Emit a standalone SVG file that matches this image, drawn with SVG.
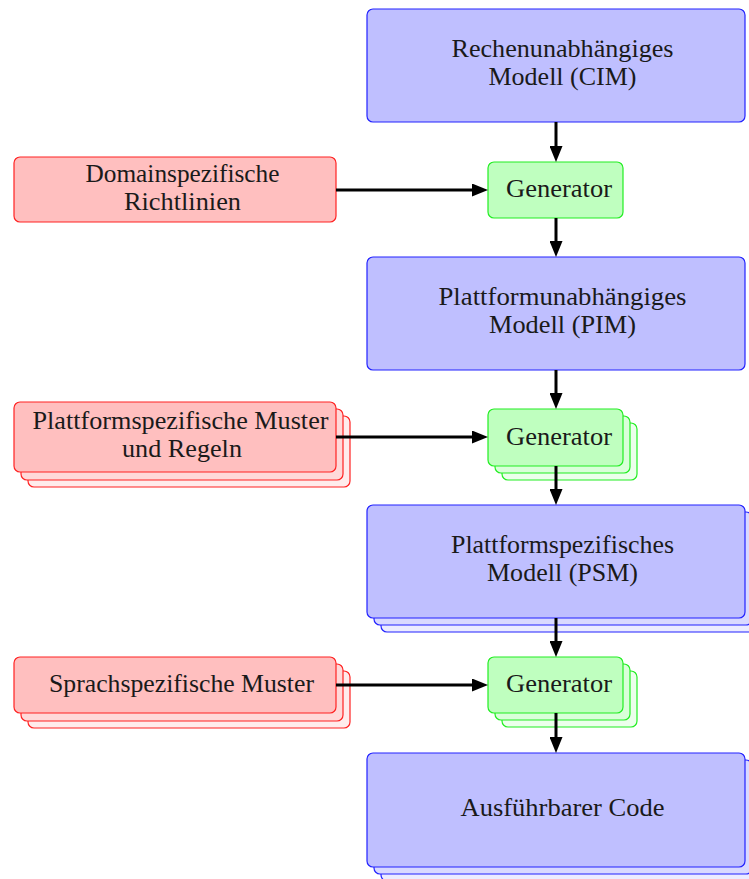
<svg xmlns="http://www.w3.org/2000/svg" width="749" height="879" viewBox="0 0 749 879">
  <style>
    text { font-family: "Liberation Serif", "Times New Roman", serif; font-size: 25px; fill: #1a1a1a; text-anchor: middle; }
    .blue { fill: #bfbfff; stroke: #2222ff; stroke-width: 1.2; }
    .blue2 { fill: #d9d9ff; stroke: #2222ff; stroke-width: 1.2; }
    .blue3 { fill: #ececff; stroke: #2222ff; stroke-width: 1.2; }
    .red { fill: #ffbfbf; stroke: #ff2222; stroke-width: 1.2; }
    .red2 { fill: #ffd9d9; stroke: #ff2222; stroke-width: 1.2; }
    .red3 { fill: #ffecec; stroke: #ff2222; stroke-width: 1.2; }
    .green { fill: #bfffbf; stroke: #22ee22; stroke-width: 1.2; }
    .green2 { fill: #d9ffd9; stroke: #22ee22; stroke-width: 1.2; }
    .green3 { fill: #ecffec; stroke: #22ee22; stroke-width: 1.2; }
    .conn { stroke: #000; stroke-width: 3; fill: none; marker-end: url(#head); }
  </style>
  <defs>
    <marker id="head" markerUnits="userSpaceOnUse" markerWidth="16" markerHeight="13" refX="0" refY="6.5" orient="auto">
      <path d="M0,0 L16,6.5 L0,13 Z" fill="#000"/>
    </marker>
  </defs>

  <!-- model boxes -->
  <g id="cim">
    <rect class="blue" x="367" y="9" width="378" height="113" rx="6"/>
    <text x="562.5" y="57" textLength="222" lengthAdjust="spacingAndGlyphs">Rechenunabhängiges</text>
    <text x="562.5" y="85" textLength="148" lengthAdjust="spacingAndGlyphs">Modell (CIM)</text>
  </g>

  <g id="pim">
    <rect class="blue" x="367" y="257" width="378" height="113" rx="6"/>
    <text x="562.5" y="305" textLength="248" lengthAdjust="spacingAndGlyphs">Plattformunabhängiges</text>
    <text x="562.5" y="333" textLength="147" lengthAdjust="spacingAndGlyphs">Modell (PIM)</text>
  </g>

  <g id="psm">
    <rect class="blue3" x="381" y="519" width="378" height="113" rx="6"/>
    <rect class="blue2" x="374" y="512" width="378" height="113" rx="6"/>
    <rect class="blue" x="367" y="505" width="378" height="113" rx="6"/>
    <text x="562.5" y="552.5" textLength="223" lengthAdjust="spacingAndGlyphs">Plattformspezifisches</text>
    <text x="562.5" y="581" textLength="151" lengthAdjust="spacingAndGlyphs">Modell (PSM)</text>
  </g>

  <g id="code">
    <rect class="blue3" x="381" y="767" width="378" height="114" rx="6"/>
    <rect class="blue2" x="374" y="760" width="378" height="114" rx="6"/>
    <rect class="blue" x="367" y="753" width="378" height="114" rx="6"/>
    <text x="562.5" y="816" textLength="204" lengthAdjust="spacingAndGlyphs">Ausführbarer Code</text>
  </g>

  <!-- generators -->
  <g id="gen1">
    <rect class="green" x="488" y="162" width="135" height="56" rx="6"/>
    <text x="559" y="197" textLength="106" lengthAdjust="spacingAndGlyphs">Generator</text>
  </g>

  <g id="gen2">
    <rect class="green3" x="502" y="423" width="135" height="57" rx="6"/>
    <rect class="green2" x="495" y="416" width="135" height="57" rx="6"/>
    <rect class="green" x="488" y="409" width="135" height="57" rx="6"/>
    <text x="559" y="444.5" textLength="106" lengthAdjust="spacingAndGlyphs">Generator</text>
  </g>

  <g id="gen3">
    <rect class="green3" x="502" y="671" width="135" height="56" rx="6"/>
    <rect class="green2" x="495" y="664" width="135" height="56" rx="6"/>
    <rect class="green" x="488" y="657" width="135" height="56" rx="6"/>
    <text x="559" y="692" textLength="106" lengthAdjust="spacingAndGlyphs">Generator</text>
  </g>

  <!-- rule inputs -->
  <g id="domain">
    <rect class="red" x="14" y="157" width="322" height="65" rx="6"/>
    <text x="182.5" y="181.5" textLength="194" lengthAdjust="spacingAndGlyphs">Domainspezifische</text>
    <text x="182.5" y="210" textLength="117" lengthAdjust="spacingAndGlyphs">Richtlinien</text>
  </g>

  <g id="platform">
    <rect class="red3" x="28" y="416" width="322" height="71" rx="6"/>
    <rect class="red2" x="21" y="409" width="322" height="71" rx="6"/>
    <rect class="red" x="14" y="402" width="322" height="70" rx="6"/>
    <text x="180.5" y="428.5" textLength="296" lengthAdjust="spacingAndGlyphs">Plattformspezifische Muster</text>
    <text x="182" y="457" textLength="120" lengthAdjust="spacingAndGlyphs">und Regeln</text>
  </g>

  <g id="language">
    <rect class="red3" x="28" y="671" width="322" height="57" rx="6"/>
    <rect class="red2" x="21" y="664" width="322" height="57" rx="6"/>
    <rect class="red" x="14" y="657" width="322" height="56" rx="6"/>
    <text x="181.5" y="692" textLength="265" lengthAdjust="spacingAndGlyphs">Sprachspezifische Muster</text>
  </g>

  <!-- connectors -->
  <g id="connectors">
    <line class="conn" x1="556" y1="122" x2="556" y2="146"/>
    <line class="conn" x1="556" y1="218" x2="556" y2="241"/>
    <line class="conn" x1="556" y1="370" x2="556" y2="393"/>
    <line class="conn" x1="556" y1="466" x2="556" y2="489"/>
    <line class="conn" x1="556" y1="618" x2="556" y2="641"/>
    <line class="conn" x1="556" y1="713" x2="556" y2="737"/>
    <line class="conn" x1="336" y1="190" x2="472" y2="190"/>
    <line class="conn" x1="336" y1="437" x2="472" y2="437"/>
    <line class="conn" x1="336" y1="685" x2="472" y2="685"/>
  </g>
</svg>
